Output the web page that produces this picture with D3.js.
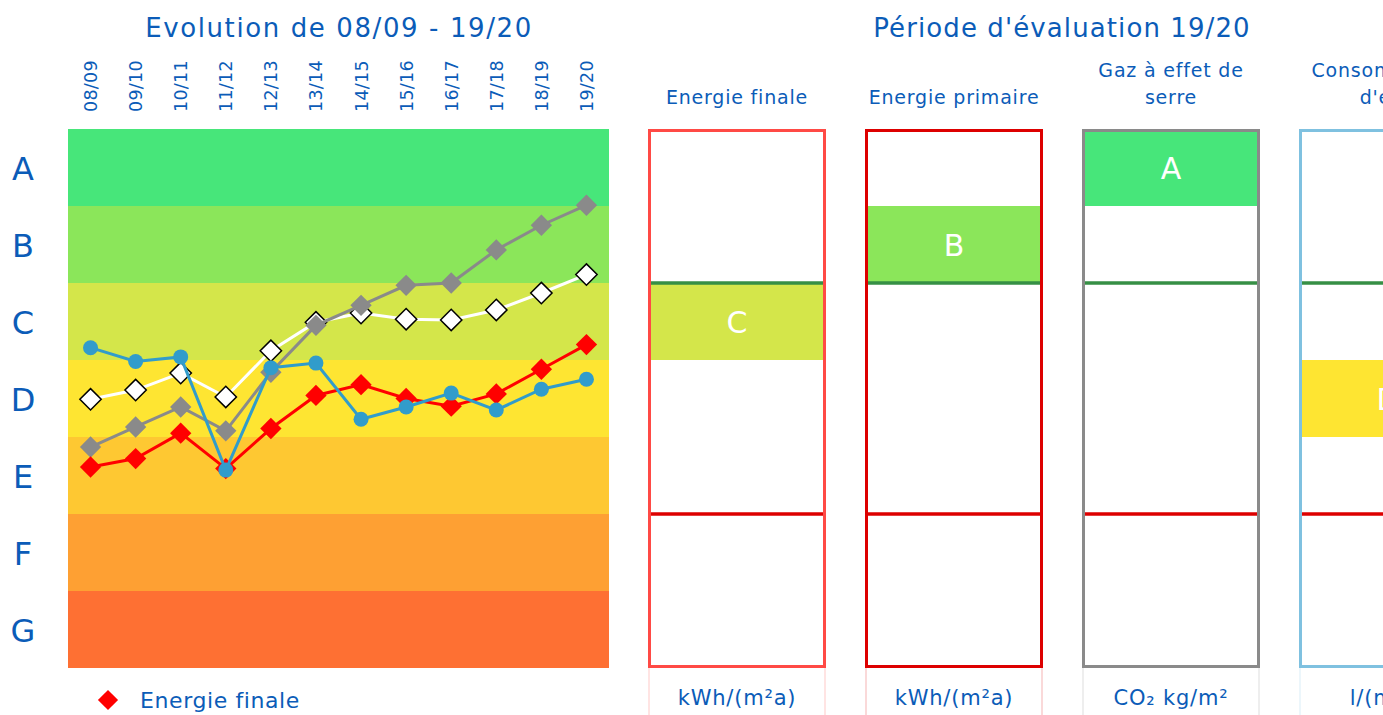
<!DOCTYPE html>
<html>
<head>
<meta charset="utf-8">
<script src="https://cdn.jsdelivr.net/npm/d3@7/dist/d3.min.js"></script>
<style>
  html, body { margin: 0; padding: 0; background: #ffffff; overflow: hidden; }
  svg { display: block; font-family: "DejaVu Sans", Verdana, sans-serif; }
</style>
</head>
<body>
<svg id="chart" width="1383" height="715"></svg>
<script>
// ---------- DATA ----------
const years = ["08/09","09/10","10/11","11/12","12/13","13/14","14/15","15/16","16/17","17/18","18/19","19/20"];
const classes = ["A","B","C","D","E","F","G"];
// rating score: 7 = top of A, 0 = bottom of G
const energieFinale   = [2.61, 2.72, 3.05, 2.59, 3.11, 3.54, 3.68, 3.50, 3.40, 3.56, 3.88, 4.20];
const energiePrimaire = [3.49, 3.61, 3.83, 3.52, 4.12, 4.49, 4.61, 4.53, 4.52, 4.65, 4.87, 5.11];
const gazEffetSerre   = [2.87, 3.13, 3.39, 3.08, 3.84, 4.45, 4.71, 4.97, 5.00, 5.43, 5.75, 6.01];
const consoEau        = [4.16, 3.98, 4.04, 2.57, 3.90, 3.96, 3.23, 3.39, 3.57, 3.35, 3.62, 3.75];
const legendNames = ["Energie finale"];
const panelTitles = [["Energie finale"], ["Energie primaire"], ["Gaz à effet de", "serre"], ["Consommation", "d'eau"]];
const panelRatings = ["C", "B", "A", "D"];
const panelUnits = ["kWh/(m²a)", "kWh/(m²a)", "CO₂ kg/m²", "l/(m²a)"];
const targetUpper = 5; // B/C limit
const targetLower = 2; // E/F limit

// ---------- STYLES ----------
const classColors = ["#47e67a", "#8be65a", "#d4e64a", "#fee532", "#fec832", "#fea033", "#fe7033"];
const textBlue = "#0b5cb8";
const panelBorder = ["#ff4a45", "#dd0000", "#8a8a8a", "#7fc1e0"];

const svg = d3.select("#chart");

// ---------- LEFT CHART ----------
const plot = { left: 68, right: 609, top: 129, bottom: 668 };
const x = d3.scalePoint().domain(years).range([plot.left, plot.right]).padding(0.5);
const y = d3.scaleLinear().domain([0, 7]).range([plot.bottom, plot.top]);
const cls = d3.scaleBand().domain(classes).range([plot.top, plot.bottom]);
const clsColor = d3.scaleOrdinal().domain(classes).range(classColors);

svg.append("g").selectAll("rect").data(classes).join("rect")
  .attr("x", plot.left).attr("width", plot.right - plot.left)
  .attr("y", d => cls(d)).attr("height", cls.bandwidth())
  .attr("fill", d => clsColor(d));

svg.append("g").selectAll("text").data(classes).join("text")
  .attr("x", 23).attr("y", d => cls(d) + cls.bandwidth() / 2 + 12)
  .attr("text-anchor", "middle").attr("font-size", 32).attr("fill", textBlue)
  .text(d => d);

svg.append("g").selectAll("text").data(years).join("text")
  .attr("transform", d => `translate(${x(d) + 6.5},112) rotate(-90)`)
  .attr("font-size", 17.5).attr("letter-spacing", 0.3).attr("fill", textBlue)
  .text(d => d);

svg.append("text").attr("x", 339).attr("y", 37).attr("text-anchor", "middle")
  .attr("font-size", 26).attr("letter-spacing", 1.6).attr("fill", textBlue)
  .text("Evolution de 08/09 - 19/20");

const line = d3.line().x((d, i) => x(years[i])).y(d => y(d));
const diamond = d3.symbol().type(d3.symbolDiamond2).size(290);
const diamondLegend = d3.symbol().type(d3.symbolDiamond2).size(260);

function drawSeries(data, lineColor, markerType, fill, stroke, strokeW) {
  const g = svg.append("g");
  g.append("path").datum(data).attr("d", line)
    .attr("fill", "none").attr("stroke", lineColor).attr("stroke-width", 3);
  if (markerType === "circle") {
    g.selectAll("circle").data(data).join("circle")
      .attr("cx", (d, i) => x(years[i])).attr("cy", d => y(d)).attr("r", 7.5)
      .attr("fill", fill);
  } else {
    g.selectAll("path.m").data(data).join("path").attr("class", "m")
      .attr("transform", (d, i) => `translate(${x(years[i])},${y(d)})`)
      .attr("d", diamond).attr("fill", fill)
      .attr("stroke", stroke).attr("stroke-width", strokeW);
  }
}
drawSeries(energiePrimaire, "#ffffff", "diamond", "#ffffff", "#000000", 1.5);
drawSeries(gazEffetSerre, "#8a8a8a", "diamond", "#8a8a8a", "none", 0);
drawSeries(energieFinale, "#ff0000", "diamond", "#ff0000", "none", 0);
drawSeries(consoEau, "#319ccb", "circle", "#319ccb", "none", 0);

// legend (only the first entry lies inside the frame)
const lg = svg.append("g");
legendNames.forEach((name, i) => {
  const yy = 700 + i * 32;
  lg.append("path").attr("transform", `translate(108,${yy})`).attr("d", diamondLegend)
    .attr("fill", "#ff0000");
  lg.append("text").attr("x", 140).attr("y", yy + 8).attr("font-size", 22)
    .attr("letter-spacing", 0.6).attr("fill", textBlue).text(name);
});

// ---------- RIGHT PANELS ----------
svg.append("text").attr("x", 1062).attr("y", 37).attr("text-anchor", "middle")
  .attr("font-size", 26).attr("letter-spacing", 1.1).attr("fill", textBlue)
  .text("Période d'évaluation 19/20");

panelTitles.forEach((title, i) => {
  const x0 = 648 + i * 217;
  const w = 178;
  const g = svg.append("g");
  const col = panelBorder[i];
  // title
  title.forEach((t, j) => {
    g.append("text").attr("x", x0 + w / 2).attr("y", 104 - (title.length - 1 - j) * 27)
      .attr("text-anchor", "middle").attr("font-size", 19).attr("letter-spacing", 0.8)
      .attr("fill", textBlue).text(t);
  });
  // rating fill
  const r = panelRatings[i];
  g.append("rect").attr("x", x0).attr("width", w)
    .attr("y", cls(r)).attr("height", cls.bandwidth()).attr("fill", clsColor(r));
  g.append("text").attr("x", x0 + w / 2).attr("y", cls(r) + cls.bandwidth() / 2 + 11)
    .attr("text-anchor", "middle").attr("font-size", 30).attr("fill", "#ffffff").text(r);
  // limit lines
  g.append("line").attr("x1", x0).attr("x2", x0 + w)
    .attr("y1", y(targetUpper)).attr("y2", y(targetUpper))
    .attr("stroke", "#368f45").attr("stroke-width", 3.5);
  g.append("line").attr("x1", x0).attr("x2", x0 + w)
    .attr("y1", y(targetLower)).attr("y2", y(targetLower))
    .attr("stroke", "#dd0000").attr("stroke-width", 3.5);
  // border
  g.append("rect").attr("x", x0 + 1.5).attr("y", plot.top + 1.5)
    .attr("width", w - 3).attr("height", plot.bottom - plot.top - 3)
    .attr("fill", "none").attr("stroke", col).attr("stroke-width", 3);
  // unit cell
  [x0 + 1, x0 + w - 1].forEach(xx => {
    g.append("line").attr("x1", xx).attr("x2", xx).attr("y1", plot.bottom).attr("y2", 715)
      .attr("stroke", col).attr("stroke-opacity", 0.3).attr("stroke-width", 1);
  });
  g.append("text").attr("x", x0 + w / 2).attr("y", 705).attr("text-anchor", "middle")
    .attr("font-size", 21).attr("letter-spacing", 0.8).attr("fill", textBlue).text(panelUnits[i]);
});
</script>
</body>
</html>
